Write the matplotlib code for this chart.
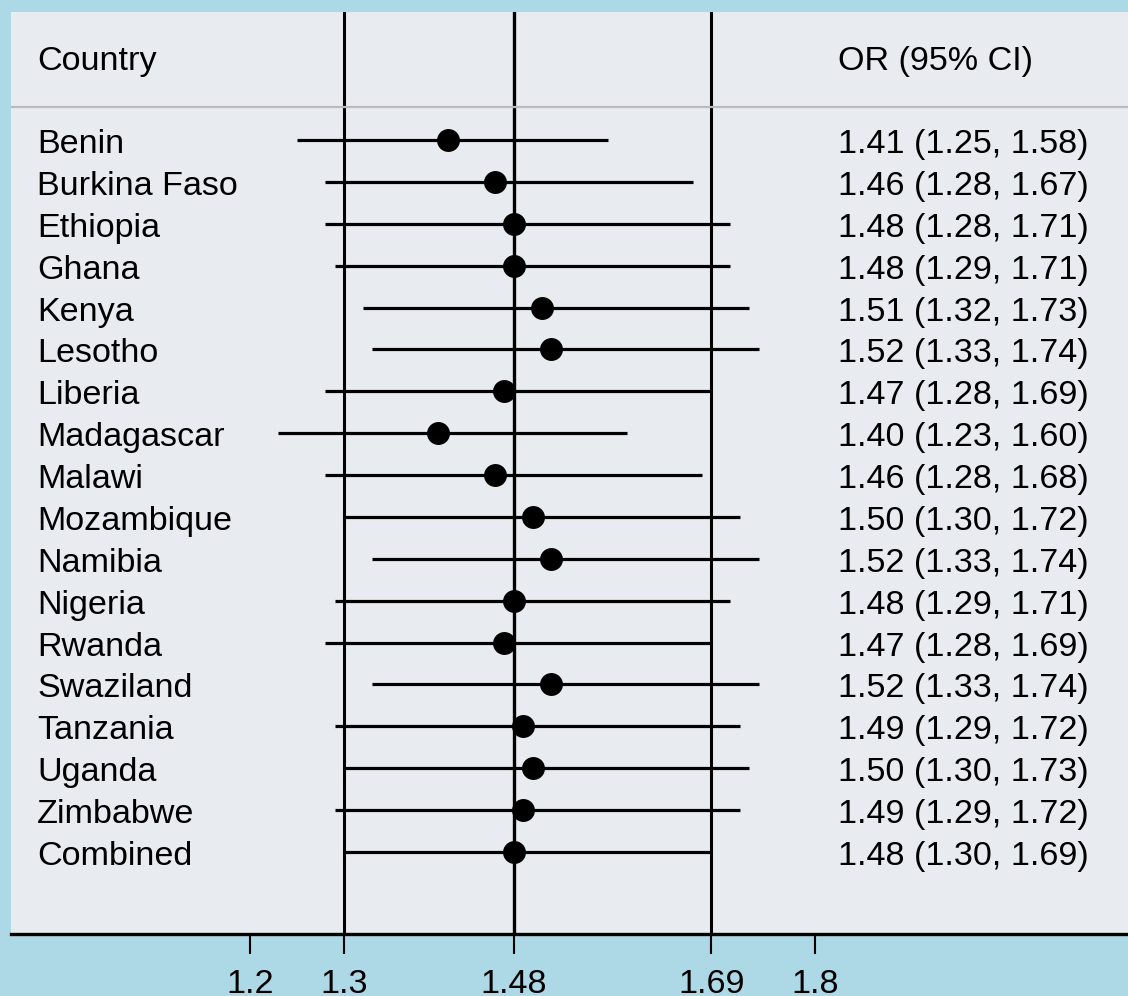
import matplotlib
matplotlib.use("Agg")
import matplotlib.pyplot as plt
import matplotlib.transforms as mtransforms

plt.rcParams['font.family'] = ['Liberation Sans', 'DejaVu Sans']

countries = ['Benin', 'Burkina Faso', 'Ethiopia', 'Ghana', 'Kenya', 'Lesotho',
             'Liberia', 'Madagascar', 'Malawi', 'Mozambique', 'Namibia', 'Nigeria',
             'Rwanda', 'Swaziland', 'Tanzania', 'Uganda', 'Zimbabwe', 'Combined']
odds = [1.41, 1.46, 1.48, 1.48, 1.51, 1.52, 1.47, 1.40, 1.46, 1.50, 1.52, 1.48,
        1.47, 1.52, 1.49, 1.50, 1.49, 1.48]
lower = [1.25, 1.28, 1.28, 1.29, 1.32, 1.33, 1.28, 1.23, 1.28, 1.30, 1.33, 1.29,
         1.28, 1.33, 1.29, 1.30, 1.29, 1.30]
upper = [1.58, 1.67, 1.71, 1.71, 1.73, 1.74, 1.69, 1.60, 1.68, 1.72, 1.74, 1.71,
         1.69, 1.74, 1.72, 1.73, 1.72, 1.69]
xticks = [1.2, 1.3, 1.48, 1.69, 1.8]
xticklabels = ['1.2', '1.3', '1.48', '1.69', '1.8']

W, H = 1128, 996
fig = plt.figure(figsize=(W / 100, H / 100), dpi=100)
fig.patch.set_facecolor('#ADD8E6')

# panel in pixels: x 11..1128, y 12..934
ax = fig.add_axes([11 / W, (H - 934) / H, (W - 11) / W, (934 - 12) / H])
ax.set_facecolor('#E8ECF0')

# linear mapping px = -880 + 941.7 * v
ax.set_xlim((11 + 880) / 941.7, (1128 + 880) / 941.7)
row_px = 41.88
ax.set_ylim((934 - 140) / row_px, (12 - 140) / row_px)

n = len(countries)
rows = list(range(n))

# reference lines from the combined estimate
ax.axvline(lower[-1], color='black', lw=2.2, zorder=1)
ax.axvline(odds[-1], color='black', lw=2.4, zorder=1)
ax.axvline(upper[-1], color='black', lw=2.2, zorder=1)

# header separator
ax.axhline((107 - 140) / row_px, color='#BBBBBB', lw=1.6, zorder=2)

for i in rows:
    ax.plot([lower[i], upper[i]], [i, i], color='black', lw=2.3,
            solid_capstyle='butt', zorder=3)
ax.plot(odds, rows, 'o', color='black', markersize=15.5, zorder=4)

trans = mtransforms.blended_transform_factory(ax.transAxes, ax.transData)
fs = 24.6
base = 0.31
ax.text(26 / 1117, (70 - 140) / row_px, 'Country', transform=trans,
        fontsize=fs, va='baseline', ha='left')
ax.text(827 / 1117, (70 - 140) / row_px, 'OR (95% CI)', transform=trans,
        fontsize=fs, va='baseline', ha='left')
for i in rows:
    ax.text(26 / 1117, i + base, countries[i], transform=trans,
            fontsize=fs, va='baseline', ha='left')
    label = '{:.2f} ({:.2f}, {:.2f})'.format(odds[i], lower[i], upper[i])
    ax.text(827 / 1117, i + base, label, transform=trans,
            fontsize=fs, va='baseline', ha='left')

for s in ['top', 'left', 'right']:
    ax.spines[s].set_visible(False)
ax.spines['bottom'].set_linewidth(2.4)
ax.spines['bottom'].set_color('black')
ax.set_yticks([])
ax.set_xticks(xticks)
ax.set_xticklabels(xticklabels)
ax.tick_params(axis='x', direction='out', length=14.5, width=1.5,
               pad=11, labelsize=fs, colors='black')

fig.savefig('out.png', dpi=100, facecolor=fig.get_facecolor())
